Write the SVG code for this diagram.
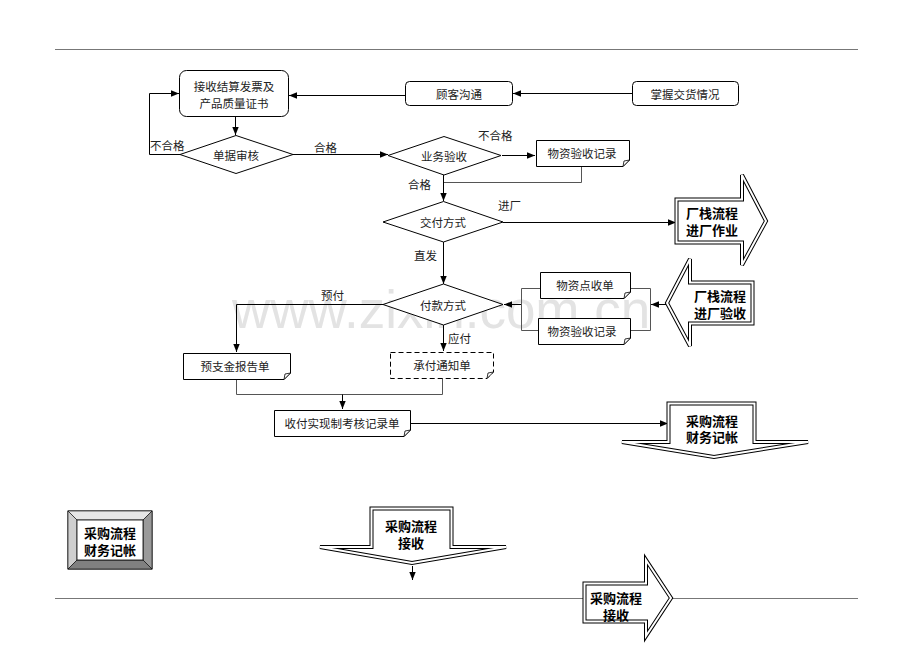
<svg xmlns="http://www.w3.org/2000/svg" width="920" height="651" viewBox="0 0 920 651">
<style>
text{font-family:"Noto Sans CJK SC","Liberation Sans",sans-serif;fill:#222}
.t{font-size:11.5px;text-anchor:middle;dominant-baseline:central}
.l{font-size:11.5px;dominant-baseline:central}
.b{font-size:13px;font-weight:bold;text-anchor:middle;dominant-baseline:central;fill:#000}
.box{fill:#fff;stroke:#000;stroke-width:1}
.doc{fill:#fff;stroke:#000;stroke-width:1}
.fold{fill:#fff;stroke:#000;stroke-width:0.8}
.dash{stroke-dasharray:5 3}
.c{fill:none;stroke:#000;stroke-width:1}
.g{fill:none;stroke:#555;stroke-width:1}
.o1{fill:#fff;stroke:#000;stroke-width:4}
.o2{fill:none;stroke:#fff;stroke-width:2}
.rule{stroke:#777;stroke-width:1}
</style>
<defs>
<marker id="ah" viewBox="0 0 10 10" refX="10" refY="5" markerWidth="8" markerHeight="8" markerUnits="userSpaceOnUse" orient="auto">
<path d="M0,1 L10,5 L0,9 Z" fill="#000"/>
</marker>
</defs>
<rect width="920" height="651" fill="#fff"/>
<text x="232" y="328" style="font-family:'Liberation Sans',Arial,sans-serif;font-size:53px;fill:#e3e3e3">www.zixin.com.cn</text>
<line class="rule" x1="55" y1="49.5" x2="858" y2="49.5"/>
<line class="rule" x1="55" y1="598.5" x2="858" y2="598.5"/>

<g id="connectors">
<path class="c" d="M632,93.5 H513" marker-end="url(#ah)"/>
<path class="c" d="M405,95.5 H289" marker-end="url(#ah)"/>
<path class="c" d="M235.5,116 V135" marker-end="url(#ah)"/>
<path class="c" d="M180,154.5 H149.5 V93.5 H179" marker-end="url(#ah)"/>
<path class="c" d="M293,154.5 H388" marker-end="url(#ah)"/>
<path class="c" d="M502,155.5 H535" marker-end="url(#ah)"/>
<path class="g" d="M581.5,167 V182.5 H443.5"/>
<path class="c" d="M443.5,175 V201" marker-end="url(#ah)"/>
<path class="c" d="M503,222.5 H676" marker-end="url(#ah)"/>
<path class="c" d="M443.5,242 V284" marker-end="url(#ah)"/>
<path class="c" d="M383,304.5 H236.5 V352" marker-end="url(#ah)"/>
<path class="c" d="M443.5,325 V351" marker-end="url(#ah)"/>
<path class="c" d="M667,304.5 H651" marker-end="url(#ah)"/>
<path class="g" d="M540,288.5 H521.5 V330.5 H538"/>
<path class="g" d="M630,288.5 H650.5 V330.5 H630"/>
<path class="c" d="M521,304.5 H504" marker-end="url(#ah)"/>
<path class="g" d="M236.5,380 V394.5 H442.5 V378"/>
<path class="c" d="M342.5,394.5 V409" marker-end="url(#ah)"/>
<path class="c" d="M410,423.5 H668" marker-end="url(#ah)"/>
<path class="c" d="M412.5,566 V580" marker-end="url(#ah)"/>
</g>

<text class="l" x="150" y="145">不合格</text>
<text class="l" x="314" y="147">合格</text>
<text class="l" x="478" y="135">不合格</text>
<text class="l" x="408" y="184">合格</text>
<text class="l" x="498" y="205">进厂</text>
<text class="l" x="414" y="255">直发</text>
<text class="l" x="321" y="295">预付</text>
<text class="l" x="448" y="338">应付</text>

<g id="n_invoice">
<rect class="box" x="179.5" y="70.5" width="109" height="46" rx="7"/>
<text class="t" x="234" y="86">接收结算发票及</text>
<text class="t" x="234" y="103">产品质量证书</text>
</g>
<g id="n_customer">
<rect class="box" x="405.5" y="81.5" width="107" height="24" rx="4"/>
<text class="t" x="459" y="93.5">顾客沟通</text>
</g>
<g id="n_delivery">
<rect class="box" x="632.5" y="81.5" width="106" height="24" rx="4"/>
<text class="t" x="685" y="94">掌握交货情况</text>
</g>
<g id="n_audit">
<path class="box" d="M180,154.5 L236,135.5 L293,154.5 L236,173.5 Z"/>
<text class="t" x="236" y="155">单据审核</text>
</g>
<g id="n_accept">
<path class="box" d="M388,155.5 L444,136.5 L501,155.5 L444,175 Z"/>
<text class="t" x="444" y="156">业务验收</text>
</g>
<g id="n_record1">
<path class="doc" d="M536.5,140.5 H629.5 V160 L623,166.5 H536.5 Z"/>
<path class="fold" d="M629.5,160 L623,166.5 L624,161 Z"/>
<text class="t" x="582" y="153">物资验收记录</text>
</g>
<g id="n_mode">
<path class="box" d="M383,222 L443.5,201.5 L503,222 L443.5,242 Z"/>
<text class="t" x="443" y="222">交付方式</text>
</g>
<g id="n_pay">
<path class="box" d="M383,304.5 L443.5,284 L503,304.5 L443.5,325 Z"/>
<text class="t" x="443" y="305">付款方式</text>
</g>
<g id="n_point">
<path class="doc" d="M540.5,272.5 H630.5 V292 L624,298.5 H540.5 Z"/>
<path class="fold" d="M630.5,292 L624,298.5 L625,293 Z"/>
<text class="t" x="585" y="285">物资点收单</text>
</g>
<g id="n_record2">
<path class="doc" d="M538.5,318.5 H630.5 V338 L624,344.5 H538.5 Z"/>
<path class="fold" d="M630.5,338 L624,344.5 L625,339 Z"/>
<text class="t" x="582" y="331">物资验收记录</text>
</g>
<g id="n_advance">
<path class="doc" d="M183.5,353.5 H290.5 V373 L284,379.5 H183.5 Z"/>
<path class="fold" d="M290.5,373 L284,379.5 L285,374 Z"/>
<text class="t" x="235" y="366">预支金报告单</text>
</g>
<g id="n_notice">
<path class="doc dash" d="M390.5,352.5 H493.5 V372 L487,378.5 H390.5 Z"/>
<path class="fold" d="M493.5,372 L487,378.5 L488,373 Z"/>
<text class="t" x="442" y="365">承付通知单</text>
</g>
<g id="n_cash">
<path class="doc" d="M274.5,410.5 H410.5 V430 L404,436.5 H274.5 Z"/>
<path class="fold" d="M410.5,430 L404,436.5 L405,431 Z"/>
<text class="t" x="342" y="423">收付实现制考核记录单</text>
</g>

<g id="a_factory_work">
<path class="o1" d="M676.5,199.5 H742 V175 L766,221 L742,265 V242.5 H676.5 Z"/>
<path class="o2" d="M676.5,199.5 H742 V175 L766,221 L742,265 V242.5 H676.5 Z"/>
<text class="b" x="712" y="212">厂栈流程</text>
<text class="b" x="712" y="229">进厂作业</text>
</g>
<g id="a_factory_accept">
<path class="o1" d="M752.5,282.5 H690 V259 L667,303 L690,346 V323.5 H752.5 Z"/>
<path class="o2" d="M752.5,282.5 H690 V259 L667,303 L690,346 V323.5 H752.5 Z"/>
<text class="b" x="720" y="295">厂栈流程</text>
<text class="b" x="720" y="312">进厂验收</text>
</g>
<g id="a_finance_top">
<path class="o1" d="M668.5,403.5 H754.5 V442 H808 L714,457 L622,442 H668.5 Z"/>
<path class="o2" d="M668.5,403.5 H754.5 V442 H808 L714,457 L622,442 H668.5 Z"/>
<text class="b" x="712" y="420">采购流程</text>
<text class="b" x="712" y="436">财务记帐</text>
</g>
<g id="a_finance_btn">
<rect x="68" y="511" width="84" height="58" fill="#fff" stroke="#000" stroke-width="1"/>
<path d="M68,511 H152 L143,520 H77 Z" fill="#e6e6e6" stroke="#000" stroke-width="0.6"/>
<path d="M68,511 L77,520 V560 L68,569 Z" fill="#cfcfcf" stroke="#000" stroke-width="0.6"/>
<path d="M152,511 L143,520 V560 L152,569 Z" fill="#9a9a9a" stroke="#000" stroke-width="0.6"/>
<path d="M68,569 L77,560 H143 L152,569 Z" fill="#808080" stroke="#000" stroke-width="0.6"/>
<rect x="77" y="520" width="66" height="40" fill="#fff" stroke="#000" stroke-width="0.8"/>
<text class="b" x="110" y="532">采购流程</text>
<text class="b" x="110" y="549">财务记帐</text>
</g>
<g id="a_receive_down">
<path class="o1" d="M371.5,508.5 H451.5 V547 H506 L412,563 L320,547 H371.5 Z"/>
<path class="o2" d="M371.5,508.5 H451.5 V547 H506 L412,563 L320,547 H371.5 Z"/>
<text class="b" x="411" y="525">采购流程</text>
<text class="b" x="411" y="542">接收</text>
</g>
<g id="a_receive_right">
<path class="o1" d="M584.5,583.5 H646 V560 L671,598 L646,636 V621.5 H584.5 Z"/>
<path class="o2" d="M584.5,583.5 H646 V560 L671,598 L646,636 V621.5 H584.5 Z"/>
<text class="b" x="616" y="597">采购流程</text>
<text class="b" x="616" y="614">接收</text>
</g>
</svg>
